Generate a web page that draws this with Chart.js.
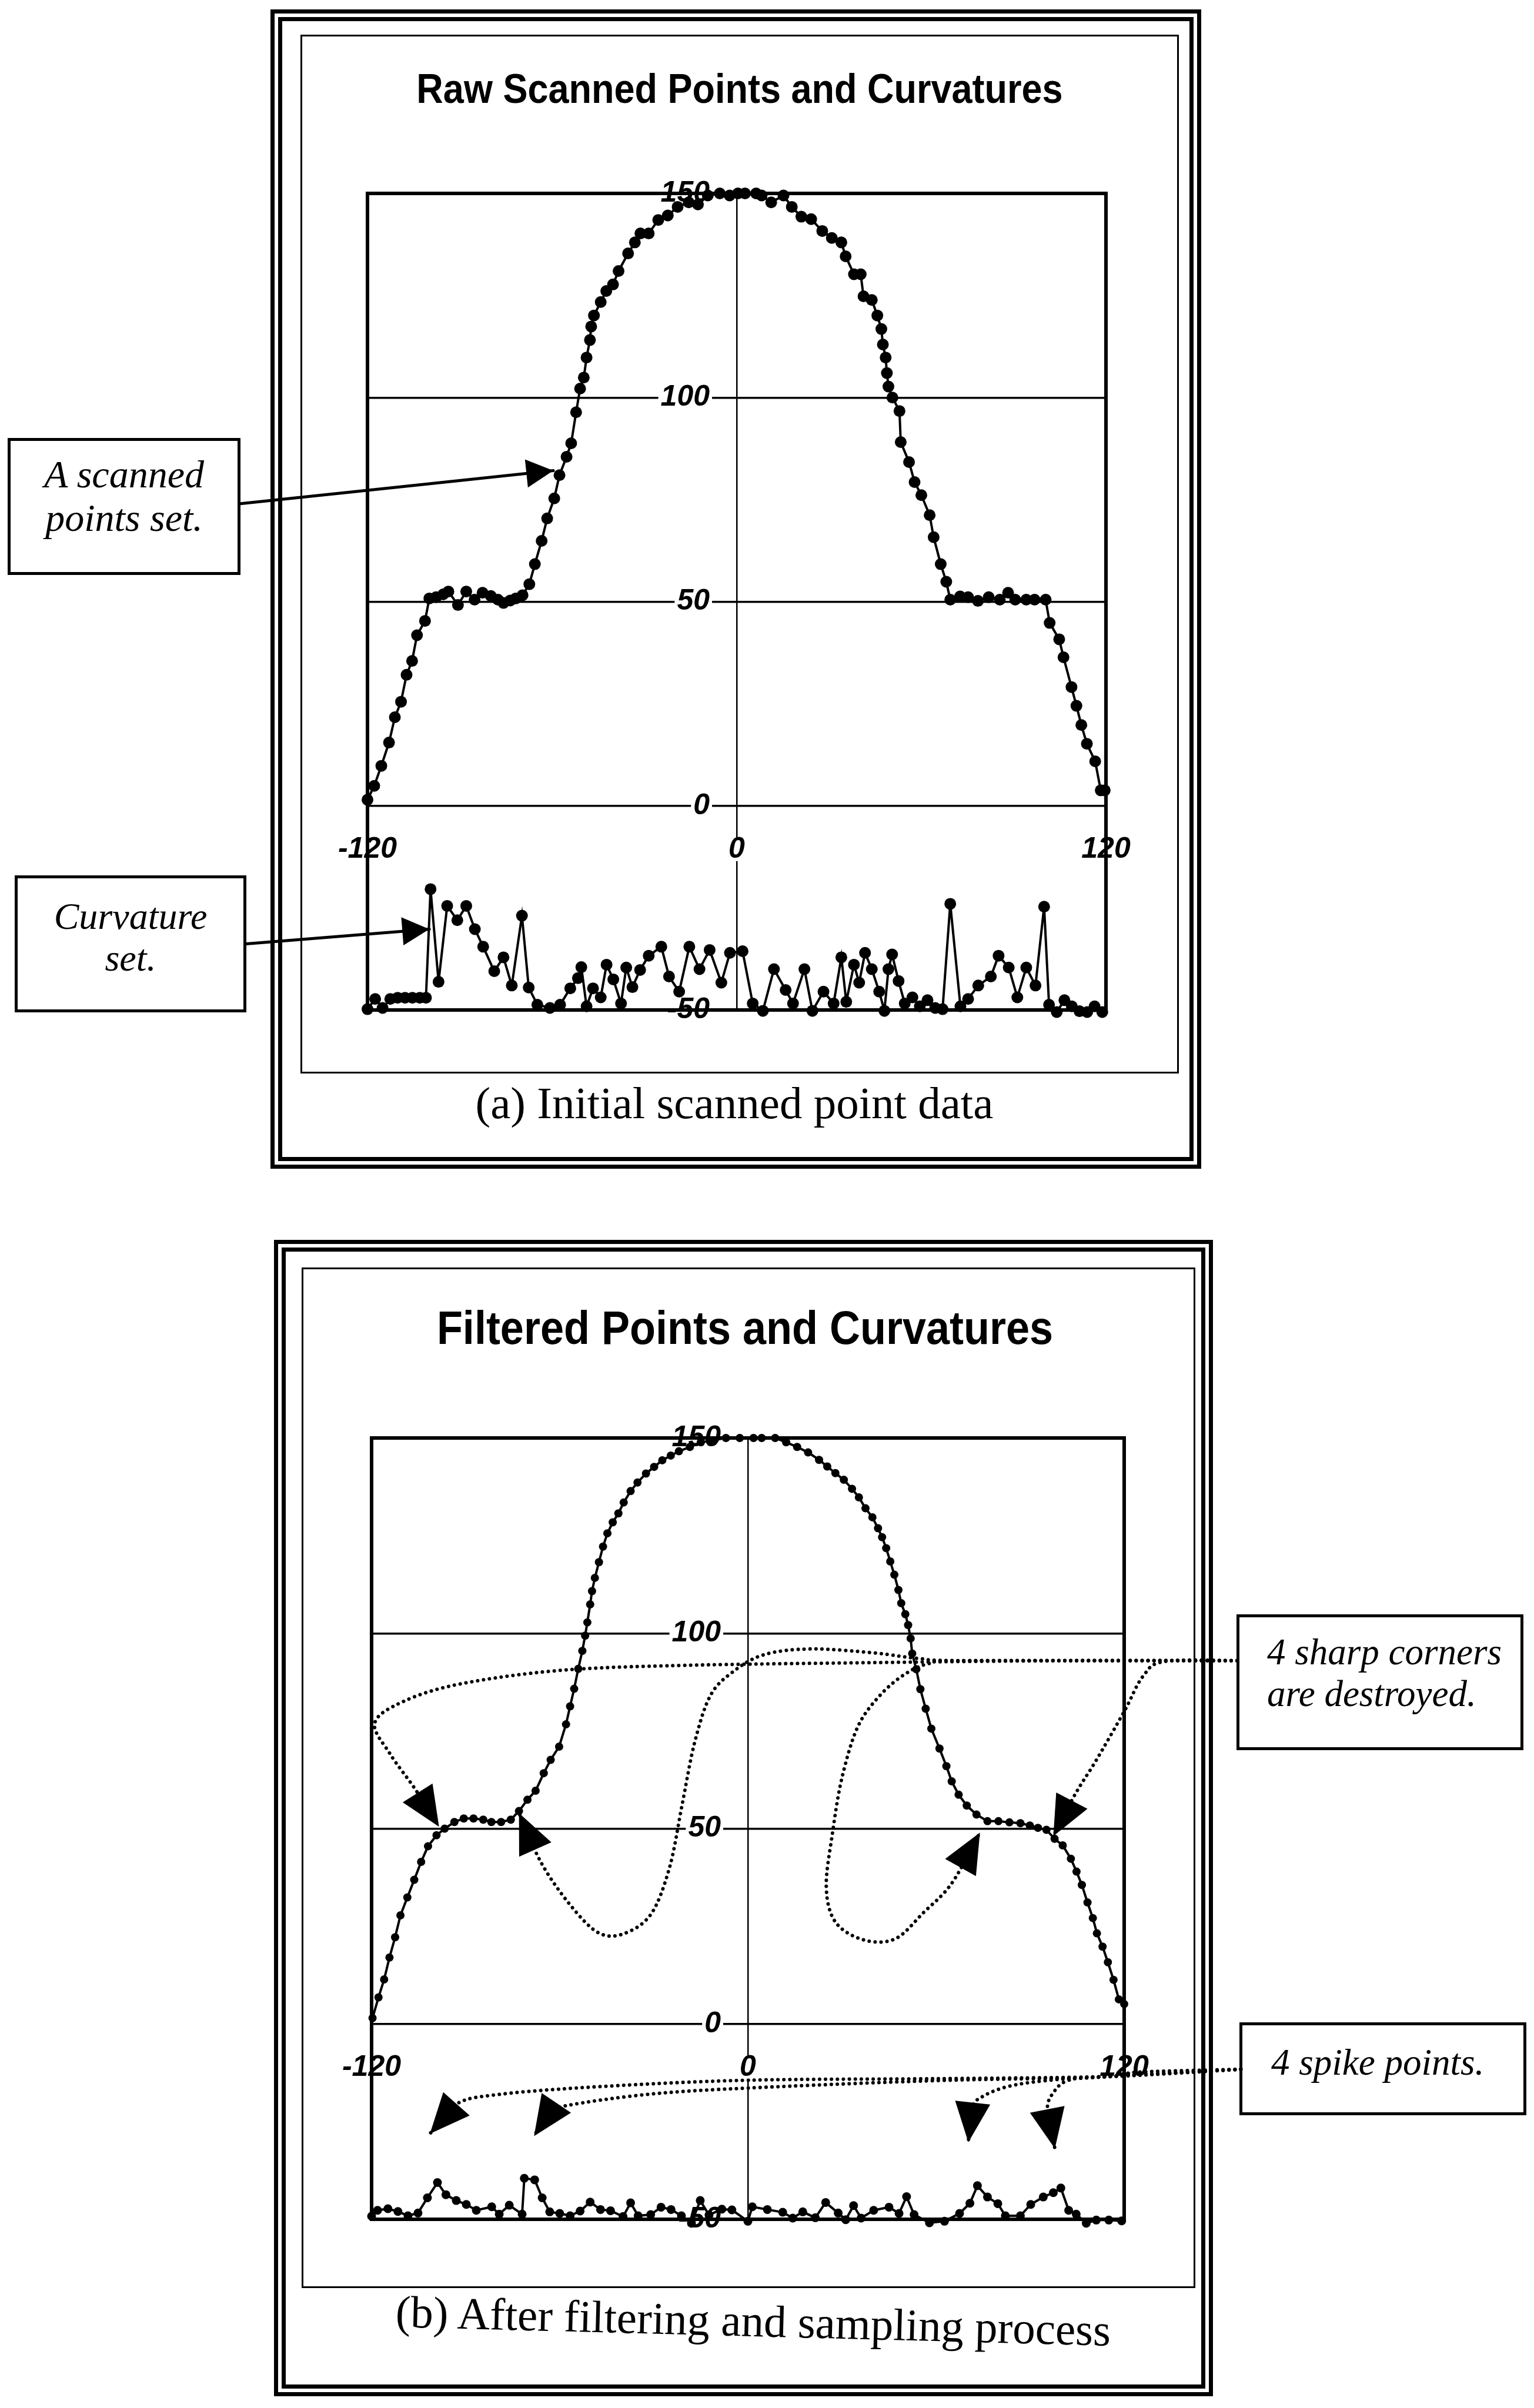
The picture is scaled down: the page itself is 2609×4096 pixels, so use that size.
<!DOCTYPE html>
<html lang="en">
<head>
<meta charset="UTF-8">
<title>Raw and Filtered Points and Curvatures</title>
<script src="https://cdn.jsdelivr.net/npm/chart.js"></script>
<style>
    body { margin: 0; background: #fff; width: 2609px; height: 4096px; position: relative; overflow: hidden; }
    .box { position: absolute; box-sizing: border-box; border: 7px solid #000; }
    .thin { border-width: 3.5px; }
    .title { position: absolute; width: 2000px; text-align: center; white-space: nowrap; line-height: 1;
             font-family: "Liberation Sans", Arial, sans-serif; font-weight: bold; transform: scaleX(0.9); }
    .caption { position: absolute; width: 2000px; text-align: center; white-space: nowrap; line-height: 1;
               font-family: "Liberation Serif", "Times New Roman", serif; font-size: 77px; }
    .note { position: absolute; box-sizing: border-box; border: 5px solid #000; background: #fff;
            font-family: "Liberation Serif", "Times New Roman", serif; font-style: italic; white-space: nowrap; }
    canvas { position: absolute; left: 0; }
</style>
</head>
<body>
    <!-- panel (a) -->
    <div class="box" style="left:460px; top:16px; width:1583px; height:1972px;"></div>
    <div class="box" style="left:473px; top:29px; width:1557px; height:1946px;"></div>
    <div class="box thin" style="left:511px; top:59px; width:1494px; height:1767px;"></div>
    <div class="title" style="left:258px; top:116px; font-size:70px;">Raw Scanned Points and Curvatures</div>
    <div class="caption" style="left:249px; top:1838px;">(a) Initial scanned point data</div>
    <div class="note" style="left:13px; top:745px; width:396px; height:233px; font-size:66px; line-height:74px; text-align:center; padding-top:20px;">A scanned<br>points set.</div>
    <div class="note" style="left:25px; top:1489px; width:394px; height:233px; font-size:64px; line-height:71px; text-align:center; padding-top:29px;">Curvature<br>set.</div>

    <!-- panel (b) -->
    <div class="box" style="left:466px; top:2109px; width:1597px; height:1967px;"></div>
    <div class="box" style="left:479px; top:2122px; width:1571px; height:1941px;"></div>
    <div class="box thin" style="left:513px; top:2156px; width:1520px; height:1736px;"></div>
    <div class="title" style="left:267px; top:2219px; font-size:80px;">Filtered Points and Curvatures</div>
    <div class="caption" style="left:281px; top:3910px; transform: rotate(1.5deg);">(b) After filtering and sampling process</div>
    <div class="note" style="left:2103px; top:2746px; width:488px; height:231px; font-size:63px; line-height:71px; padding-left:47px; padding-top:24px;">4 sharp corners<br>are destroyed.</div>
    <div class="note" style="left:2108px; top:3440px; width:488px; height:158px; font-size:63px; line-height:71px; padding-left:49px; padding-top:28px;">4 spike points.</div>

    <canvas id="rawChart" width="2609" height="2050" style="top:0;"></canvas>
    <canvas id="filteredChart" width="2609" height="2046" style="top:2050px;"></canvas>

    <script>
        // axis labels
        const xTickLabels = [-120, 0, 120];
        const yTickLabels = [150, 100, 50, 0, -50];

        // (a) raw scanned points
        const rawX = [-120, -117.8, -115.5, -113, -111.1, -109.1, -107.3, -105.5, -103.9, -101.3, -99.9, -97.7, -95.4, -93.7,
            -90.6, -87.9, -85.2, -82.6, -79.9, -77.6, -75.8, -73.6, -71.8, -69.6, -67.4, -65.6, -63.4, -61.6, -59.3, -57.6,
            -55.3, -53.8, -52.2, -50.9, -49.7, -48.8, -47.7, -47.3, -46.4, -44.2, -42.4, -40.2, -38.4, -35.3, -33.1, -31.3,
            -28.6, -25.5, -22.4, -19.2, -15.6, -12.6, -9.4, -5.5, -2.3, 0.4,
            2.7, 6.3, 8.1, 11.2, 15.2, 17.9, 21, 24.2, 27.8, 30.9, 34, 35.4, 38.1, 40.3, 41.2, 43.9, 45.7, 47, 47.5, 48.4,
            48.8, 49.3, 50.6, 52.9, 53.3, 56, 57.8, 60, 62.7, 64, 66.3, 68.1, 69.4, 72.6, 75.2, 78.4, 81.9, 85.5, 88.2, 90.5,
            94.1, 96.8, 100.4, 101.7, 104.8, 106.2, 108.8, 110.4, 112, 113.8, 116.5, 118.3, 119.6];
        const rawY = [1.5, 4.9, 9.8, 15.5, 21.7, 25.5, 32.1, 35.5, 41.8, 45.3, 50.8, 51.1, 51.8, 52.5,
            49.2, 52.5, 50.5, 52.2, 51.4, 50.5, 49.7, 50.3, 50.8, 51.6, 54.3, 59.2, 64.9, 70.4, 75.3, 81,
            85.5, 88.8, 96.4, 102.2, 104.9, 109.8, 114.1, 117.4, 120.1, 123.4, 126.1, 127.7, 131, 135.3, 138, 140.2,
            140.2, 143.5, 144.6, 146.7, 147.8, 147.3, 149.5, 150, 149.5, 150,
            150, 150, 149.5, 147.8, 149.5, 146.7, 144.3, 143.7, 140.8, 139.1, 138, 134.6, 130.2, 130.2, 124.8, 123.9, 120.1, 116.8, 113, 109.8,
            106, 102.7, 100, 96.7, 89.1, 84.2, 79.3, 76.1, 71.2, 65.8, 59.2, 54.9, 50.5, 51.3, 51.1, 50.2, 51.1, 50.5, 52.2, 50.5,
            50.5, 50.5, 50.5, 44.8, 40.8, 36.4, 29.1, 24.5, 19.8, 15.2, 10.9, 3.8, 3.8];

        // (a) raw curvatures
        const rawCurvX = [-120, -117.5, -115.1, -112.6, -110.2, -107.8, -105.4, -103, -101, -99.5, -96.9, -94.1, -90.8, -87.9,
            -85.1, -82.4, -78.8, -75.8, -73.1, -69.8, -67.6, -64.8, -60.7, -57.4, -54.1, -51.6, -50.5, -48.8, -46.7, -44.2,
            -42.3, -40.1, -37.6, -35.9, -33.9, -31.4, -28.6, -24.5, -22, -18.7, -15.4, -12.1, -8.8, -5, -2.2, 1.9, 5.2, 8.5,
            12.1, 15.9, 18.3, 22, 24.6, 28.2, 31.5, 34, 35.6, 38.1, 39.8, 41.7, 43.9, 46.3, 48, 49.3, 50.5, 52.6, 54.6, 57.1,
            59.5, 62, 64.5, 66.9, 69.4, 72.7, 75.2, 78.5, 82.6, 85.1, 88.4, 91.2, 94.1, 97.1, 99.9, 101.5, 104, 106.5, 108.9,
            111.4, 113.9, 116.3, 118.8];
        const rawCurvY = [-49.8, -47.3, -49.5, -47.3, -47, -47, -47, -47, -47, -20.4, -43.1, -24.5, -28, -24.5,
            -30.2, -34.5, -40.5, -37.1, -44, -26.9, -44.5, -48.7, -49.5, -48.7, -44.7, -42.2, -39.5, -49.1, -44.7, -46.9,
            -38.9, -42.5, -48.4, -39.6, -44.4, -40.2, -36.7, -34.5, -41.8, -45.5, -34.5, -40, -35.3, -43.3, -36, -35.6, -48.4, -50.2,
            -40, -45.1, -48.4, -40, -50.2, -45.5, -48.4, -37.1, -48, -38.9, -43.3, -36, -40, -45.5, -50.2, -40, -36.4, -42.9, -48.4, -46.9,
            -49.1, -47.6, -49.5, -49.8, -24, -49.1, -47.3, -44, -41.8, -36.7, -39.6, -46.9, -39.6, -44, -24.7, -48.7, -50.5, -47.6, -49.1,
            -50.3, -50.5, -49.1, -50.5];

        // (b) filtered points
        const filtX = [-119.7, -117.8, -116, -114.3, -112.5, -110.8, -108.6, -106.4, -104.2, -102, -99.3, -96.7, -93.6, -90.6,
            -87.5, -84.4, -81.8, -78.7, -75.6, -73, -70.3, -67.7, -65.1, -62.9, -60.2, -58, -56.7, -55.4, -54.1, -52.8, -51.9,
            -51.2, -50.3, -49.7, -48.8, -47.5, -46.2, -44.8, -43.1, -41.3, -39.6, -37.4, -35.2, -32.5, -29.9, -27.3, -24.6,
            -22, -18.5, -15, -11.4, -7, -2.6, 1.8,
            4.4, 8.7, 12.2, 15.7, 19.2, 22.7, 25.3, 27.9, 30.6, 33.2, 35.4, 37.5, 39.7, 41.5, 42.8, 44.1, 45.4, 46.7, 48, 48.9,
            50.2, 51.1, 51.9, 52.4, 53.7, 55, 56.7, 58.5, 61.1, 63.3, 65, 67.2, 69.8, 72.9, 76.4, 79.9, 83.4, 86.9, 89.9, 92.5,
            95.2, 97.8, 100.4, 103, 104.8, 106.5, 108.3, 110, 111.3, 113.1, 114.8, 116.6, 118.3, 120];
        const filtY = [1.5, 6.8, 11.4, 17, 22.2, 27.8, 32.4, 36.9, 41.5, 45.5, 48.3, 50, 51.7, 52.6,
            52.6, 52.3, 51.7, 51.7, 52.3, 54.5, 57.4, 59.7, 64.2, 67.6, 71, 76.7, 81.3, 85.8, 90.9, 95.5, 99.4,
            102.8, 107.4, 110.8, 114.2, 118.2, 122.2, 125.6, 128.4, 130.7, 133.5, 136.4, 138.6, 140.9, 142.6, 144.3, 145.5,
            146.6, 147.7, 148.9, 149.4, 150, 150, 150,
            150, 150, 148.9, 147.7, 146.3, 144.4, 142.7, 141, 139.3, 137, 134.8, 132, 129.7, 126.9, 124.6, 121.8, 118.4, 115, 111.1, 107.7,
            104.9, 102.1, 98.7, 94.8, 90.8, 85.7, 80.7, 75.6, 70.5, 66, 62.1, 58.7, 55.9, 53.6, 51.9, 51.9, 51.6, 51.4, 50.8, 50.2,
            49.7, 47.4, 45.7, 42.3, 39, 35.6, 31.1, 27.1, 23.2, 19.8, 15.8, 11.3, 6.3, 5.1];

        // (b) filtered curvatures
        const filtCurvX = [-120, -118.1, -114.8, -111.6, -108.4, -105.2, -102.2, -99, -96.3, -93, -89.8, -86.6, -81.7, -79.3,
            -76.1, -72, -71.3, -68, -65.6, -63.2, -60, -56.7, -53.5, -50.3, -47, -43.8, -39.8, -37.4, -35, -31, -27.7, -24.5,
            -21.2, -18, -15.2, -12.4, -8.3, -5.1, 0, 1.4, 6.2, 11.1, 14.3, 17.5, 21.5, 24.8, 28.8, 31.2, 33.7, 36.1, 40.1, 45,
            48.2, 50.6, 53, 57.9, 62.7, 67.5, 70.8, 73.2, 76.4, 79.7, 82.1, 86.9, 90.2, 94.2, 97.4, 99.8, 102.3, 104.7, 107.9,
            111.1, 115.1, 119.2];
        const filtCurvY = [-49.2, -47.7, -47.3, -48, -49.1, -48.4, -44.5, -40.6, -43.7, -45.2, -46.2, -47.7, -46.8, -48.7,
            -46.4, -48.7, -39.5, -39.9, -44.5, -48.1, -48.5, -49.1, -47.9, -45.6, -47.5, -47.8, -49.3, -45.8, -49.1, -48.8, -46.9, -47.5,
            -49.1, -51, -45.2, -48.9, -47.4, -47.6, -50.5, -46.8, -47.5, -48.2, -49.7, -48.1, -49.6, -45.7, -48.4, -50.1, -46.5, -49.7, -47.7, -46.9,
            -48.5, -44.2, -48.8, -50.9, -50.5, -48.5, -45.9, -41.4, -44.3, -46, -49.1, -49.1, -46.2, -44.3, -43.2, -42, -47.7, -48.7, -51,
            -50.2, -50.2, -50.4];

        // annotation paths, in data units of each chart
        const scannedArrow = [[-161.3, 74], [-59.6, 82.1]];
        const curvatureArrow = [[-159.4, -33.8], [-99.9, -30.2]];
        const cornerPaths = [
            [[156, 93], [100, 93], [40, 92.5], [-20, 91.8], [-60, 90.5], [-92, 87], [-110, 82.5], [-119, 77], [-114, 69], [-106, 60], [-98.5, 50.5]],
            [[156, 93], [70, 93], [55, 93.5], [40, 95], [20, 96], [5, 94.5], [-5, 90], [-12, 84], [-17, 72], [-21, 56], [-25, 40], [-31, 28], [-40, 23], [-48, 23.5], [-57, 30.8], [-66, 41.4], [-73, 54]],
            [[156, 93], [70, 93], [58, 92.3], [50, 89.5], [42, 84], [35, 76], [30, 63], [27, 49], [25, 35], [28, 26], [37, 21.5], [47, 21.8], [56, 28.5], [65, 36], [74, 49]],
            [[156, 93], [133, 92.8], [126, 89], [120, 80], [111, 67.4], [104.5, 59], [97.4, 48.1]]
        ];
        const spikePaths = [
            [[157.2, -11.6], [125, -12.3], [112, -13.5], [60, -14], [0, -14.4], [-46.5, -16], [-79, -18], [-93, -20.5], [-101.4, -28.1]],
            [[157.2, -11.6], [112, -13.6], [60, -14.5], [0, -16.4], [-30.4, -17.9], [-55, -20.5], [-63, -22.5], [-68.2, -28.7]],
            [[157.2, -11.6], [112, -13.6], [95, -14.5], [83, -16], [75, -18.5], [71.5, -21.5], [70.3, -30.3]],
            [[157.2, -11.6], [112, -13.6], [102, -14.5], [97.5, -17.5], [95.5, -22], [97.9, -31.9]]
        ];

        function zip(xs, ys) {
            return xs.map((v, i) => ({ x: v, y: ys[i] }));
        }

        function drawLabel(ctx, text, px, py, align) {
            const w = ctx.measureText(text).width;
            const left = align === 'right' ? px - w : px - w / 2;
            ctx.fillStyle = '#fff';
            ctx.fillRect(left - 4, py - 20, w + 8, 40);
            ctx.fillStyle = '#000';
            ctx.textAlign = align;
            ctx.fillText(text, px, py);
        }

        // tick labels next to the centred axes, then the plot box
        const frameAndLabels = {
            id: 'frameAndLabels',
            beforeDatasetsDraw(chart) {
                const { ctx, chartArea: a, scales: { x, y } } = chart;
                const x0 = x.getPixelForValue(0);
                const y0 = y.getPixelForValue(0);
                ctx.save();
                ctx.font = 'italic bold 50px "Liberation Sans", Arial, sans-serif';
                ctx.textBaseline = 'middle';
                yTickLabels.forEach(v => drawLabel(ctx, String(v), x0 - 46, y.getPixelForValue(v), 'right'));
                xTickLabels.forEach(v => drawLabel(ctx, String(v), x.getPixelForValue(v), y0 + 74, 'center'));
                ctx.strokeStyle = '#000';
                ctx.lineWidth = 6;
                ctx.strokeRect(a.left, a.top, a.right - a.left, a.bottom - a.top);
                ctx.restore();
            }
        };

        function tracePath(ctx, pts) {
            ctx.beginPath();
            ctx.moveTo(pts[0][0], pts[0][1]);
            for (let i = 0; i < pts.length - 1; i++) {
                const p0 = pts[Math.max(i - 1, 0)], p1 = pts[i], p2 = pts[i + 1], p3 = pts[Math.min(i + 2, pts.length - 1)];
                ctx.bezierCurveTo(p1[0] + (p2[0] - p0[0]) / 6, p1[1] + (p2[1] - p0[1]) / 6,
                    p2[0] - (p3[0] - p1[0]) / 6, p2[1] - (p3[1] - p1[1]) / 6, p2[0], p2[1]);
            }
            ctx.stroke();
        }

        function arrowHead(ctx, from, tip, len, half) {
            const dx = tip[0] - from[0], dy = tip[1] - from[1];
            const d = Math.hypot(dx, dy);
            const ux = dx / d, uy = dy / d;
            const bx = tip[0] - ux * len, by = tip[1] - uy * len;
            ctx.beginPath();
            ctx.moveTo(tip[0], tip[1]);
            ctx.lineTo(bx - uy * half, by + ux * half);
            ctx.lineTo(bx + uy * half, by - ux * half);
            ctx.closePath();
            ctx.fill();
        }

        function makeArrows(paths, style) {
            return {
                id: 'arrows',
                afterDatasetsDraw(chart) {
                    const { ctx, scales: { x, y } } = chart;
                    ctx.save();
                    ctx.strokeStyle = '#000';
                    ctx.fillStyle = '#000';
                    paths.forEach(path => {
                        const pts = path.map(([a, b]) => [x.getPixelForValue(a), y.getPixelForValue(b)]);
                        ctx.lineWidth = style.width;
                        ctx.lineCap = 'round';
                        ctx.setLineDash(style.dash);
                        tracePath(ctx, pts);
                        ctx.setLineDash([]);
                        arrowHead(ctx, pts[pts.length - 2], pts[pts.length - 1], style.len, style.half);
                    });
                    ctx.restore();
                }
            };
        }

        function makeChart(id, datasets, padding, plugins) {
            return new Chart(document.getElementById(id), {
                type: 'scatter',
                data: { datasets },
                options: {
                    responsive: false,
                    animation: false,
                    layout: { padding },
                    plugins: { legend: { display: false }, tooltip: { enabled: false } },
                    scales: {
                        x: {
                            type: 'linear', min: -120, max: 120, position: { y: 0 },
                            ticks: { display: false, stepSize: 120 },
                            grid: { color: '#000', lineWidth: 2.5, drawTicks: false },
                            border: { display: false }
                        },
                        y: {
                            type: 'linear', min: -50, max: 150, position: { x: 0 },
                            ticks: { display: false, stepSize: 50 },
                            grid: { color: '#000', lineWidth: 3.5, drawTicks: false },
                            border: { display: false }
                        }
                    }
                },
                plugins: [frameAndLabels].concat(plugins)
            });
        }

        function series(points, radius, width) {
            return {
                data: points,
                showLine: true,
                borderColor: '#000',
                borderWidth: width,
                pointRadius: radius,
                pointBackgroundColor: '#000',
                pointBorderWidth: 0,
                clip: false
            };
        }

        makeChart('rawChart', [
            series(zip(rawX, rawY), 10, 4),
            series(zip(rawCurvX, rawCurvY), 10, 4)
        ], { left: 625, right: 728, top: 329, bottom: 332 }, [
            makeArrows([scannedArrow, curvatureArrow], { width: 5, dash: [], len: 46, half: 24 })
        ]);

        makeChart('filteredChart', [
            series(zip(filtX, filtY), 7, 4),
            series(zip(filtCurvX, filtCurvY), 7.5, 4)
        ], { left: 632, right: 697, top: 396, bottom: 321 }, [
            makeArrows(cornerPaths.concat(spikePaths), { width: 6, dash: [0.1, 10], len: 68, half: 30 })
        ]);
    </script>
</body>
</html>
